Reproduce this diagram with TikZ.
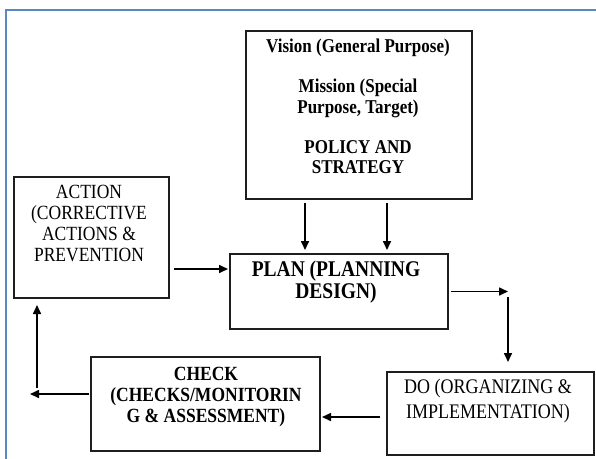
\documentclass[tikz,border=0pt]{standalone}
\usepackage{fontspec}
\usepackage{graphicx}
\setmainfont{Liberation Serif}
\usetikzlibrary{arrows.meta}
\definecolor{framecol}{HTML}{5B87C5}
\definecolor{boxcol}{HTML}{1E1E1E}
\newcommand{\vstretch}[1]{\scalebox{1}[1.15]{\begin{tabular}{@{}c@{}}#1\end{tabular}}}
\tikzset{
  box/.style={draw=boxcol, line width=2pt, rectangle, inner sep=0pt, anchor=north west},
  txt/.style={align=center, inner sep=0pt, text=black},
  arr/.style={draw=black, line width=1.6pt, -{Triangle[length=9pt,width=8pt]}},
}
\begin{document}
\begin{tikzpicture}[x=1pt,y=-1pt]
\useasboundingbox (0,0) rectangle (596,458);
\clip (0,0) rectangle (596,458);
% outer frame
\draw[framecol, line width=2pt] (5.5,470) -- (5.5,10) -- (610,10);
% boxes
\node[box, minimum width=226pt, minimum height=168pt] (vis) at (245,30) {};
\node[box, minimum width=155pt, minimum height=121pt] (act) at (13,176) {};
\node[box, minimum width=218pt, minimum height=75pt] (plan) at (229,253) {};
\node[box, minimum width=207pt, minimum height=83pt] (do) at (386,371) {};
\node[box, minimum width=229pt, minimum height=94pt] (chk) at (90,356) {};
% texts
\node[txt, font=\fontsize{17}{17.4}\selectfont\bfseries] (visT) at (358,109)
  {\vstretch{Vision (General Purpose)\\[17.4pt]Mission (Special\\Purpose, Target)\\[17.4pt]POLICY AND\\STRATEGY}};
\node[txt, font=\fontsize{17.5}{18.3}\selectfont] (actT) at (89,226)
  {\vstretch{ACTION\\(CORRECTIVE\\ACTIONS \&\\PREVENTION}};
\node[txt, font=\fontsize{19.5}{19.1}\selectfont\bfseries] (planT) at (336,283)
  {\vstretch{PLAN (PLANNING\\DESIGN)}};
\node[txt, font=\fontsize{17.5}{18.3}\selectfont\bfseries] (chkT) at (206,397)
  {\vstretch{CHECK\\(CHECKS/MONITORIN\\G \& ASSESSMENT)}};
\node[txt, font=\fontsize{18}{21.7}\selectfont] (doT) at (488,401)
  {\vstretch{DO (ORGANIZING \&\\IMPLEMENTATION)}};
% connectors
\draw[arr] ([xshift=-54pt,yshift=-3pt]vis.south) -- ([xshift=-34pt,yshift=3pt]plan.north);
\draw[arr] ([xshift=28pt,yshift=-3pt]vis.south) -- ([xshift=48pt,yshift=3pt]plan.north);
\draw[arr] ([xshift=4pt,yshift=-31.5pt]act.east) coordinate (a1) -- ([xshift=-1pt]plan.west |- a1);
\draw[arr] ([xshift=2pt]plan.east) -- ++(57,0) coordinate (c1);
\draw[arr] ([yshift=-5pt]c1) -- ([yshift=9pt]do.north -| c1);
\draw[arr] ([xshift=-6pt,yshift=-3.5pt]do.west) coordinate (c2) -- ([xshift=1pt]chk.east |- c2);
\draw[arr] ([xshift=-1pt,yshift=10pt]chk.west) -- ++(-59,0) coordinate (c3);
\draw[arr] ([xshift=7pt,yshift=6pt]c3) coordinate (c4) -- ([yshift=-6pt]act.south -| c4);
\end{tikzpicture}
\end{document}
